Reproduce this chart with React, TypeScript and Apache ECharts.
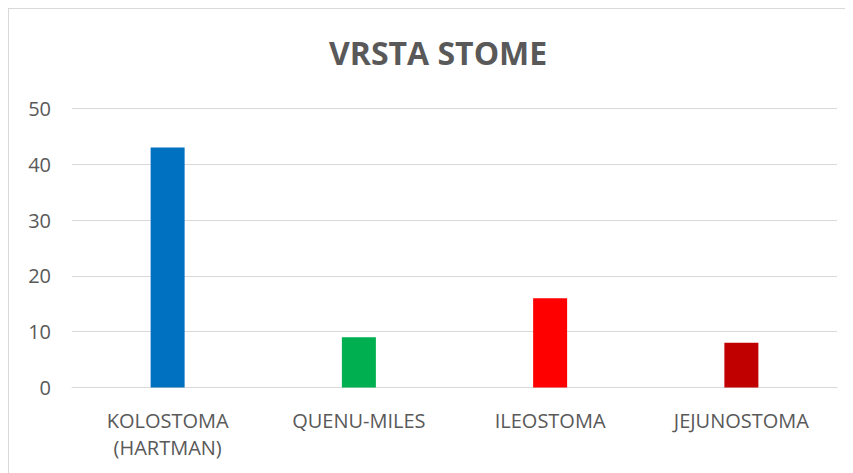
import React, { useEffect, useRef } from "react";
import * as echarts from "echarts";

const categories = ["KOLOSTOMA\n(HARTMAN)", "QUENU-MILES", "ILEOSTOMA", "JEJUNOSTOMA"];
const values = [43, 9, 16, 8];
const barColors = ["#0070C0", "#00B050", "#FF0000", "#C00000"];
const yTicks = { min: 0, max: 50, interval: 10 };
const titleText = "VRSTA STOME";

export default function App() {
  const ref = useRef<HTMLDivElement>(null);
  useEffect(() => {
    if (!ref.current) return;
    const chart = echarts.init(ref.current, undefined, { renderer: "svg" });
    const font = "Open Sans, Noto Sans, sans-serif";
    chart.setOption({
      animation: false,
      backgroundColor: "#ffffff",
      title: {
        text: titleText,
        left: 316,
        top: 23,
        textStyle: { fontFamily: font, fontSize: 32, fontWeight: "bold", color: "#595959" },
      },
      graphic: [
        { type: "line", shape: { x1: 0.5, y1: 0, x2: 0.5, y2: 470 }, style: { stroke: "#d9d9d9", lineWidth: 1 } },
        { type: "line", shape: { x1: 0, y1: 0.5, x2: 850, y2: 0.5 }, style: { stroke: "#d9d9d9", lineWidth: 1 } },
      ],
      grid: { left: 64, right: 16, top: 100.5, bottom: 85.5 },
      xAxis: {
        type: "category",
        data: categories,
        axisLine: { lineStyle: { color: "#d9d9d9", width: 1 } },
        axisTick: { show: false },
        axisLabel: { fontFamily: font, fontSize: 20, color: "#595959", margin: 19, lineHeight: 27 },
      },
      yAxis: {
        type: "value",
        min: yTicks.min,
        max: yTicks.max,
        interval: yTicks.interval,
        axisLine: { show: false },
        axisTick: { show: false },
        splitLine: { lineStyle: { color: "#d9d9d9", width: 1 } },
        axisLabel: { fontFamily: font, fontSize: 20, color: "#595959", margin: 21 },
      },
      series: [
        {
          type: "bar",
          data: values.map((v, i) => ({ value: v, itemStyle: { color: barColors[i] } })),
          barWidth: 34,
        },
      ],
    });
    return () => chart.dispose();
  }, []);
  return <div ref={ref} style={{ width: 845, height: 465 }} />;
}
